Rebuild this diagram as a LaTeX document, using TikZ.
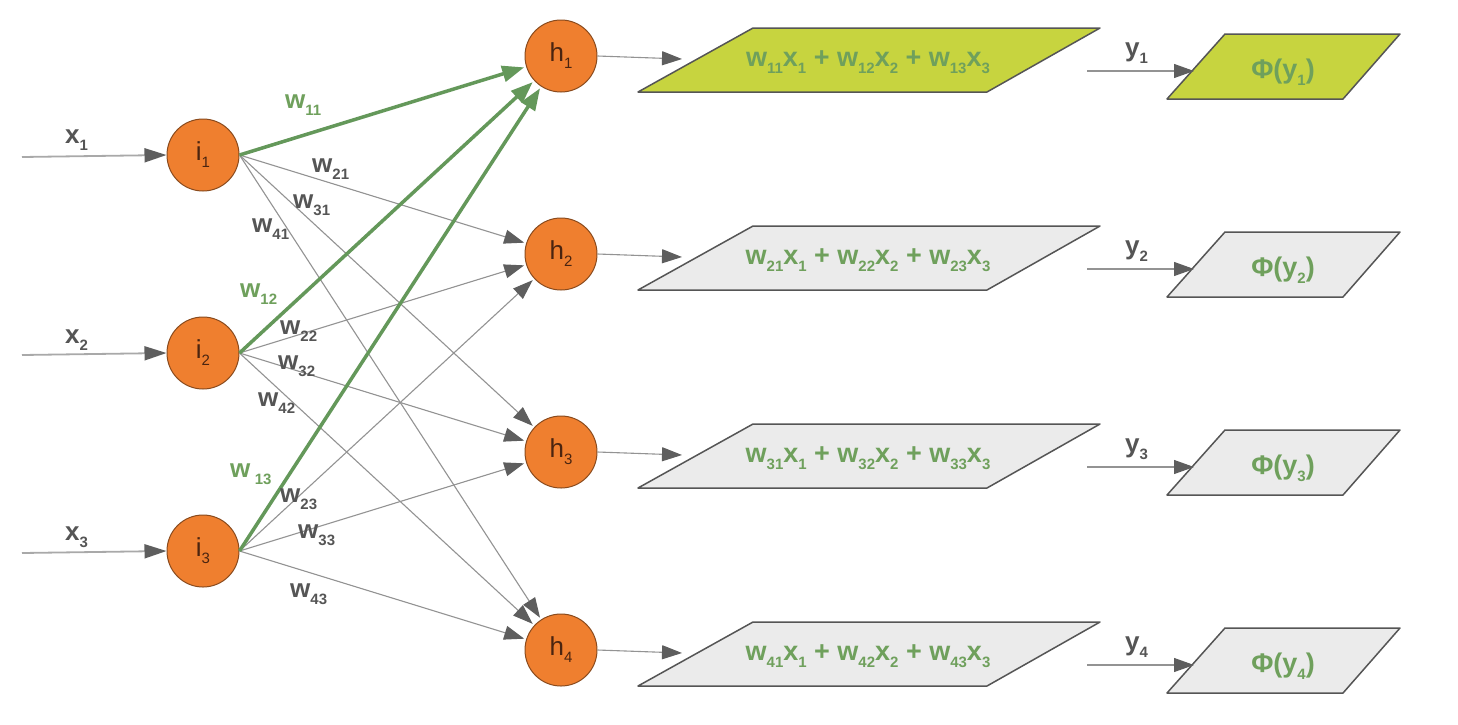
\documentclass[tikz,border=0pt]{standalone}
\usepackage{fontspec}
\setmainfont{Liberation Sans}
\usetikzlibrary{arrows.meta}
\definecolor{orng}{HTML}{EF7F2F}
\definecolor{orngdraw}{HTML}{8A4B1E}
\definecolor{nodetxt}{HTML}{4A2410}
\definecolor{grn}{HTML}{64985A}
\definecolor{grntxt}{HTML}{6FA05C}
\definecolor{ylw}{HTML}{C7D43F}
\definecolor{lgray}{HTML}{EBEBEB}
\definecolor{pdraw}{HTML}{555555}
\definecolor{edgegray}{HTML}{939393}
\definecolor{tipgray}{HTML}{5E5E5E}
\definecolor{labgray}{HTML}{555555}
\newcommand{\sbs}[1]{\raisebox{-7pt}{\fontsize{15}{15}\selectfont #1}}
\tikzset{
  neuron/.style={circle, fill=orng, draw=orngdraw, line width=1pt, minimum size=72pt, inner sep=0pt,
    font=\fontsize{26}{26}\selectfont, text=nodetxt},
  wl/.style={anchor=base west, inner sep=0pt, font=\fontsize{26}{26}\selectfont\bfseries, text=labgray},
  gl/.style={wl, text=grntxt},
  conn/.style={draw=edgegray, line width=1.1pt, -{Triangle[length=20pt,width=14pt,color=tipgray]}},
  gconn/.style={draw=grn, line width=3.5pt, -{Triangle[length=22pt,width=16pt,color=grn]}},
  inarrow/.style={draw=edgegray!80, line width=1.8pt, -{Triangle[length=22pt,width=14pt,color=tipgray]}},
  bigp/.style={draw=pdraw, line width=1.5pt, line join=round},
  ftext/.style={anchor=base, inner sep=0pt, font=\fontsize{27}{27}\selectfont\bfseries, text=grntxt}
}
\begin{document}
\begin{tikzpicture}[x=1pt, y=-1pt]
\fill[white] (0,0) rectangle (1458,724);
\useasboundingbox (0,0) rectangle (1458,724);

% input neurons
\node[neuron] (i1) at (203,155) {i\sbs{1}};
\node[neuron] (i2) at (203,353) {i\sbs{2}};
\node[neuron] (i3) at (203,551) {i\sbs{3}};
% hidden neurons
\node[neuron] (h1) at (561,56) {h\sbs{1}};
\node[neuron] (h2) at (561,254) {h\sbs{2}};
\node[neuron] (h3) at (561,452) {h\sbs{3}};
\node[neuron] (h4) at (561,650) {h\sbs{4}};

% input arrows
\coordinate (xs1) at (22,157);
\coordinate (xs2) at (22,355);
\coordinate (xs3) at (22,553);
\draw[inarrow] (xs1) -- (i1.west);
\draw[inarrow] (xs2) -- (i2.west);
\draw[inarrow] (xs3) -- (i3.west);
\node[wl] (lx1) at (65,143) {x\sbs{1}};
\node[wl] (lx2) at (65,343) {x\sbs{2}};
\node[wl] (lx3) at (65,540) {x\sbs{3}};

% gray connections
\foreach \i in {1,2,3}{
  \foreach \h in {2,3,4}{
    \draw[conn, shorten >=2pt] (i\i.east) -- (h\h);
  }
}
% green connections
\draw[gconn, shorten >=2pt] (i1.east) -- (h1);
\draw[gconn, shorten >=2pt] (i2.east) -- (h1);
\draw[gconn, shorten >=2pt] (i3.east) -- (h1);

% weight labels
\node[gl] (w11) at (285,108) {w\sbs{11}};
\node[wl] (w21) at (312,172) {w\sbs{21}};
\node[wl] (w31) at (293,208) {w\sbs{31}};
\node[wl] (w41) at (252,232) {w\sbs{41}};
\node[gl] (w12) at (240,297) {w\sbs{12}};
\node[wl] (w22) at (280,334) {w\sbs{22}};
\node[wl] (w32) at (278,369) {w\sbs{32}};
\node[wl] (w42) at (258,406) {w\sbs{42}};
\node[gl] (w13) at (230,477) {w\,\sbs{13}};
\node[wl] (w23) at (280,502) {w\sbs{23}};
\node[wl] (w33) at (298,538) {w\sbs{33}};
\node[wl] (w43) at (290,597) {w\sbs{43}};

% parallelograms and outputs
\foreach \k/\o/\fc in {1/0/ylw, 2/198/lgray, 3/396/lgray, 4/594/lgray}{
  \draw[bigp, fill=\fc] (638,92+\o) -- (753,28+\o) -- (1100,28+\o) -- (987,92+\o) -- cycle;
  \node[ftext] (s\k) at (868,66+\o) {w\sbs{\k1}x\sbs{1} + w\sbs{\k2}x\sbs{2} + w\sbs{\k3}x\sbs{3}};
  \coordinate (pin\k) at (682,59+\o);
  \draw[conn] (h\k.east) -- (pin\k);
  \draw[bigp, fill=\fc] (1167,99+\o) -- (1225,34+\o) -- (1400,34+\o) -- (1343,99+\o) -- cycle;
  \node[ftext] (phi\k) at (1283,78+\o) {Φ(y\sbs{\k})};
  \coordinate (ys\k) at (1087,71+\o);
  \coordinate (ye\k) at (1194,71+\o);
  \draw[conn] (ys\k) -- (ye\k);
  \node[wl] (ly\k) at (1125,56+\o) {y\sbs{\k}};
}
\end{tikzpicture}
\end{document}
